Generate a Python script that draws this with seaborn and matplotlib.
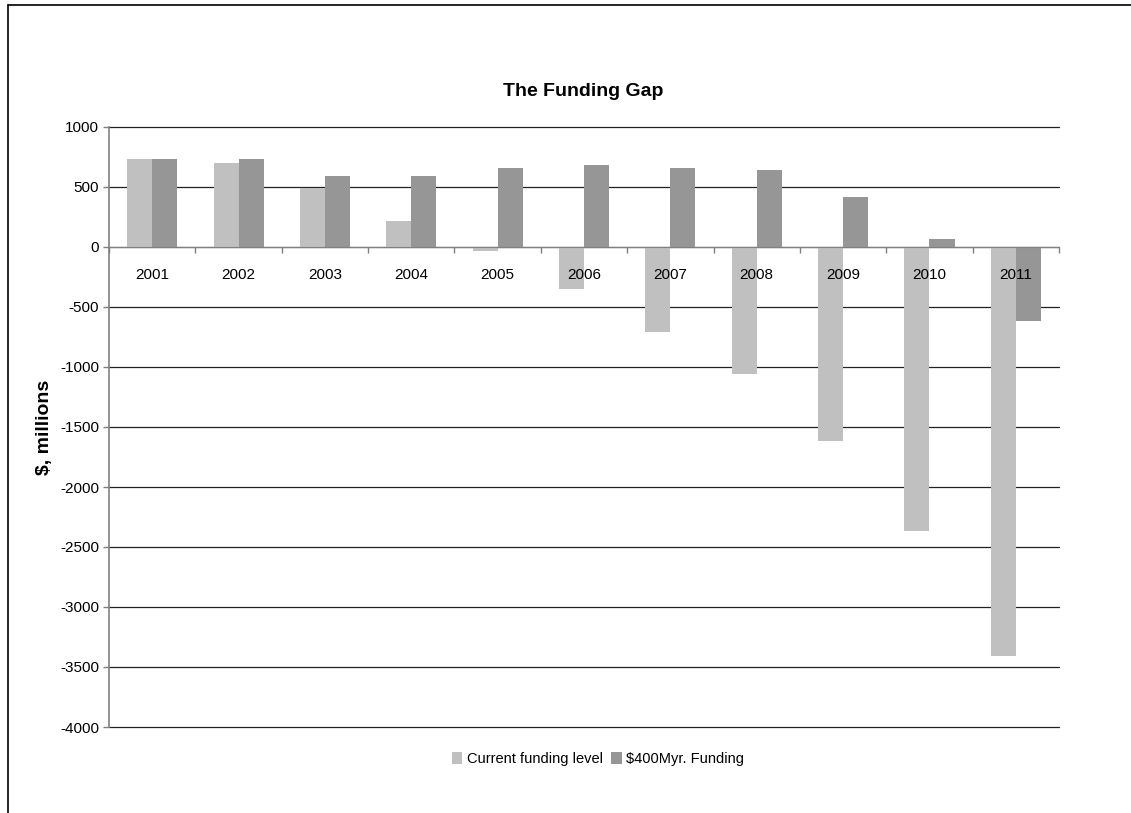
import numpy as np
import pandas as pd
import seaborn as sns
import matplotlib.pyplot as plt
from matplotlib.lines import Line2D

# datos
years = ['2001', '2002', '2003', '2004', '2005', '2006', '2007', '2008', '2009', '2010', '2011']
current_level = [730, 700, 495, 215, -35, -350, -710, -1055, -1620, -2370, -3405]
funding_400 = [730, 730, 590, 590, 655, 680, 655, 640, 420, 65, -620]
series_names = ['Current funding level', '$400Myr. Funding']
colors = ['#C0C0C0', '#969696']

df = pd.DataFrame({
    'year': years * 2,
    'value': current_level + funding_400,
    'serie': [series_names[0]] * len(years) + [series_names[1]] * len(years),
})

sns.set_style('white')
plt.rcParams['font.family'] = ['Liberation Sans', 'DejaVu Sans']
plt.rcParams['axes.unicode_minus'] = False
plt.rcParams['text.color'] = 'black'

fig = plt.figure(figsize=(11.31, 8.13), dpi=100)
ax = fig.add_axes([109 / 1131, 1 - 727 / 813, 950 / 1131, 600 / 813])

sns.barplot(data=df, x='year', y='value', hue='serie', palette=colors,
            width=0.58, gap=0, saturation=1, linewidth=0, ax=ax, legend=True)

ax.set_ylim(-4000, 1000)
ax.set_xlim(-0.5, len(years) - 0.5)
ax.set_yticks(np.arange(-4000, 1001, 500))
ax.yaxis.grid(True, color='#222222', linewidth=0.9)
ax.set_axisbelow(True)
ax.xaxis.set_zorder(4)
for gl in ax.yaxis.get_gridlines():
    gl.set_clip_on(False)

# eje de categorias cruzando en cero
for s in ['top', 'right']:
    ax.spines[s].set_visible(False)
ax.spines['bottom'].set_position(('data', 0))
ax.spines['bottom'].set_color('#808080')
ax.spines['bottom'].set_zorder(3)
ax.spines['left'].set_color('#808080')
ax.spines['left'].set_linewidth(1.2)

ax.set_xticks(np.arange(len(years)))
ax.set_xticklabels(years)
ax.set_xticks(np.arange(-0.5, len(years)), minor=True)
ax.tick_params(axis='x', which='major', length=0, pad=15, labelsize=11, colors='black')
ax.tick_params(axis='x', which='minor', length=4, width=1, direction='out', color='#808080', bottom=True)
ax.tick_params(axis='y', which='major', length=4, width=1, direction='out', color='#808080',
               left=True, pad=3, labelsize=11, labelcolor='black')
ax.set_xlabel('')
ax.set_ylabel('')

fig.text(45 / 1131, 1 - 427 / 813, '$, millions', rotation=90, ha='center', va='center',
         fontsize=14, fontweight='bold', color='black')
fig.text(583 / 1131, 1 - 92 / 813, 'The Funding Gap', ha='center', va='center',
         fontsize=14, fontweight='bold', color='black')

handles, labels = ax.get_legend_handles_labels()
ax.legend(handles, labels, loc='center', bbox_to_anchor=(598 / 1131, 1 - 759 / 813),
          bbox_transform=fig.transFigure, ncol=2, frameon=False, fontsize=10.5,
          handlelength=0.7, handleheight=0.9, handletextpad=0.3, columnspacing=0.6)

# marco exterior (solo arriba e izquierda visibles)
fig.add_artist(Line2D([8 / 1131, 1.0], [1 - 5 / 813, 1 - 5 / 813], transform=fig.transFigure,
                      color='black', linewidth=1.2))
fig.add_artist(Line2D([8 / 1131, 8 / 1131], [0.0, 1 - 5 / 813], transform=fig.transFigure,
                      color='black', linewidth=1.2))

fig.savefig('out.png', dpi=100, facecolor='white')
